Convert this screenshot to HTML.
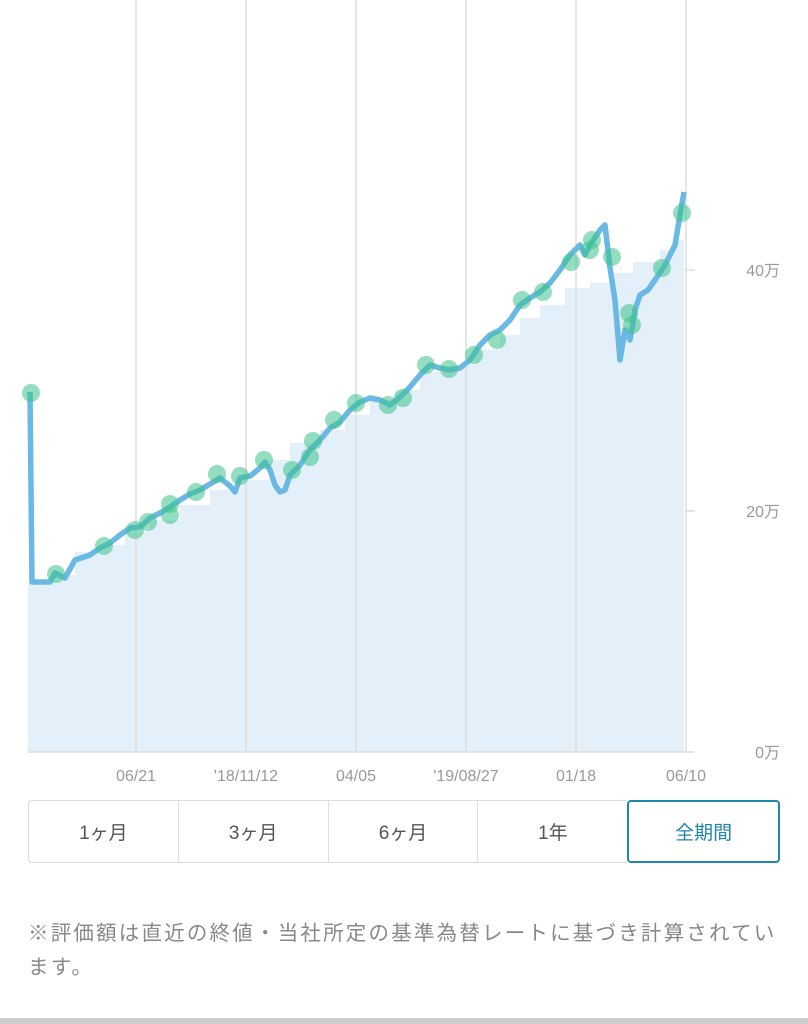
<!DOCTYPE html>
<html><head><meta charset="utf-8"><style>
body{margin:0;width:808px;height:1024px;background:#fff;overflow:hidden;font-family:"Liberation Sans","Noto Sans CJK JP",sans-serif;position:relative}
.btns{position:absolute;left:28px;top:800px;width:752px;height:63px;display:flex}
.b{flex:1;border:1.5px solid #ddd;border-right:none;display:flex;align-items:center;justify-content:center;font-size:19px;color:#555}
.b:first-child{border-radius:4px 0 0 4px}
.b.on{border:2px solid #1f86ad;color:#1f86ad;border-radius:4px}
.note{position:absolute;left:28px;top:917px;width:780px;font-size:20.5px;line-height:34px;color:#888;white-space:nowrap;letter-spacing:2.2px}
.bar{position:absolute;left:0;bottom:0;width:808px;height:6px;background:#ccc}
</style></head><body>
<svg width="808" height="800" style="position:absolute;left:0;top:0" font-family="Liberation Sans, Noto Sans CJK JP, sans-serif">
<path d="M28,752 L28,582 L50,582 L50,575 L75,575 L75,552 L100,552 L100,545 L125,545 L125,532 L150,532 L150,520 L180,520 L180,505 L210,505 L210,490 L240,490 L240,480 L270,480 L270,460 L290,460 L290,443 L320,443 L320,430 L345,430 L345,415 L370,415 L370,400 L395,400 L395,390 L420,390 L420,372 L450,372 L450,365 L475,365 L475,350 L500,350 L500,335 L520,335 L520,318 L540,318 L540,305 L565,305 L565,288 L590,288 L590,283 L610,283 L610,273 L633,273 L633,262 L660,262 L660,250 L675,250 L675,240 L684,240 L684,752 Z" fill="#e3f0f9"/>
<g stroke="#dadde0" stroke-width="1.5">
<line x1="136" y1="0" x2="136" y2="752"/><line x1="246" y1="0" x2="246" y2="752"/><line x1="356" y1="0" x2="356" y2="752"/><line x1="466" y1="0" x2="466" y2="752"/><line x1="576" y1="0" x2="576" y2="752"/><line x1="686" y1="0" x2="686" y2="752"/>
<line x1="28" y1="752" x2="694" y2="752"/><line x1="686" y1="511" x2="695" y2="511"/><line x1="686" y1="270" x2="695" y2="270"/>
</g>
<polyline fill="none" stroke="#6ab8e4" stroke-width="5.5" stroke-linejoin="round" points="30,392 32,582 50,582 55,573 65,578 75,560 90,555 100,548 110,543 120,535 130,528 140,527 150,518 160,513 170,507 180,500 190,494 200,490 210,484 220,478 230,486 235,492 240,478 250,476 260,468 265,462 270,470 275,485 280,492 285,490 290,475 300,465 310,450 320,440 330,428 340,422 350,410 360,402 370,398 380,400 390,405 400,397 410,387 420,375 430,365 440,368 450,370 460,368 470,360 480,345 490,335 500,330 510,320 520,305 530,298 540,292 550,283 560,270 570,255 580,245 585,255 590,245 600,230 605,225 610,268 615,300 620,360 625,330 630,340 635,310 640,295 648,290 655,280 665,265 675,245 680,215 684,192"/>
<g fill="rgba(60,195,140,0.55)">
<circle cx="31" cy="393" r="9"/><circle cx="56" cy="574" r="9"/><circle cx="104" cy="546" r="9"/><circle cx="135" cy="530" r="9"/><circle cx="148" cy="522" r="9"/><circle cx="170" cy="515" r="9"/><circle cx="170" cy="504" r="9"/><circle cx="196" cy="492" r="9"/><circle cx="217" cy="474" r="9"/><circle cx="240" cy="476" r="9"/><circle cx="264" cy="460" r="9"/><circle cx="292" cy="470" r="9"/><circle cx="310" cy="457" r="9"/><circle cx="313" cy="441" r="9"/><circle cx="334" cy="420" r="9"/><circle cx="356" cy="403" r="9"/><circle cx="388" cy="405" r="9"/><circle cx="403" cy="398" r="9"/><circle cx="426" cy="365" r="9"/><circle cx="449" cy="369" r="9"/><circle cx="474" cy="355" r="9"/><circle cx="497" cy="340" r="9"/><circle cx="522" cy="300" r="9"/><circle cx="543" cy="292" r="9"/><circle cx="571" cy="262" r="9"/><circle cx="590" cy="250" r="9"/><circle cx="592" cy="240" r="9"/><circle cx="612" cy="257" r="9"/><circle cx="629" cy="313" r="9"/><circle cx="632" cy="325" r="9"/><circle cx="662" cy="268" r="9"/><circle cx="682" cy="213" r="9"/>
</g>
<g fill="#999" font-size="16" text-anchor="middle">
<text x="136" y="781">06/21</text><text x="246" y="781">'18/11/12</text><text x="356" y="781">04/05</text><text x="466" y="781">'19/08/27</text><text x="576" y="781">01/18</text><text x="686" y="781">06/10</text>
</g>
<g fill="#999" font-size="16" text-anchor="end">
<text x="780" y="276">40万</text><text x="780" y="517">20万</text><text x="780" y="758">0万</text>
</g>
</svg>
<div class="btns"><div class="b">1ヶ月</div><div class="b">3ヶ月</div><div class="b">6ヶ月</div><div class="b">1年</div><div class="b on">全期間</div></div>
<div class="note">※評価額は直近の終値・当社所定の基準為替レートに基づき計算されてい<br>ます。</div>
<div class="bar"></div>
</body></html>
